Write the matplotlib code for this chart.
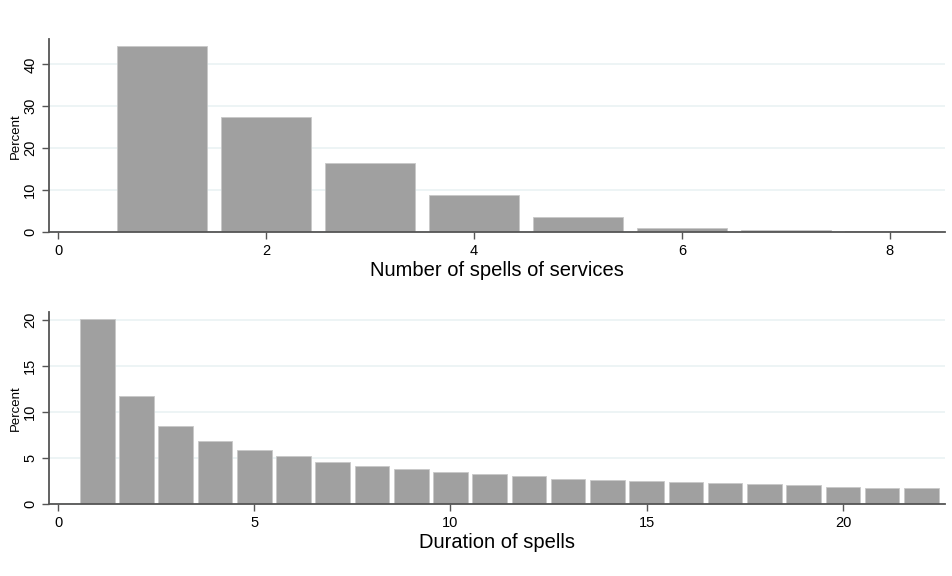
import matplotlib
matplotlib.use("Agg")
import matplotlib.pyplot as plt
import numpy as np

plt.rcParams['font.family'] = ['Liberation Sans', 'DejaVu Sans']

# spells of services (percent)
n_spells = [1, 2, 3, 4, 5, 6, 7, 8]
pct_spells = [44.3, 27.4, 16.4, 8.8, 3.7, 1.1, 0.4, 0.3]

# duration of spells (percent)
duration = list(range(1, 23))
pct_duration = [20.1, 11.7, 8.45, 6.8, 5.87, 5.2, 4.6, 4.17, 3.8, 3.48, 3.22,
                3.0, 2.75, 2.65, 2.54, 2.43, 2.32, 2.2, 2.1, 1.8, 1.7, 1.7]

bar_col = '#a0a0a0'
grid_col = '#eaf2f3'
spine_col = '#555555'

fig = plt.figure(figsize=(9.53, 5.76), dpi=100)
ax1 = fig.add_axes([0.0514, 0.597, 0.9402, 0.335])
ax2 = fig.add_axes([0.0514, 0.125, 0.9402, 0.334])


def style(ax, yticks, xticks, xlabel):
    ax.set_axisbelow(True)
    ax.set_yticks(yticks)
    ax.set_xticks(xticks)
    ax.yaxis.grid(True, color=grid_col, linewidth=1.2)
    for s in ['top', 'right']:
        ax.spines[s].set_visible(False)
    for s in ['left', 'bottom']:
        ax.spines[s].set_color(spine_col)
        ax.spines[s].set_linewidth(1.3)
    ax.tick_params(axis='both', colors=spine_col, labelcolor='black',
                   labelsize=10.5, length=5, width=1)
    for lab in ax.get_yticklabels():
        lab.set_rotation(90)
        lab.set_va('center')
    ax.set_ylabel('Percent', fontsize=9.5, labelpad=1)
    ax.set_xlabel(xlabel, fontsize=14.5, labelpad=2)


ax1.bar(n_spells, pct_spells, width=0.87, color=bar_col, edgecolor='#c8c8c8', linewidth=0.6)
ax1.set_xlim(-0.087, 8.53)
ax1.set_ylim(0, 46)
style(ax1, [0, 10, 20, 30, 40], [0, 2, 4, 6, 8], 'Number of spells of services')

ax2.bar(duration, pct_duration, width=0.88, color=bar_col, edgecolor='#c8c8c8', linewidth=0.6)
ax2.set_xlim(-0.23, 22.6)
ax2.set_ylim(0, 20.9)
style(ax2, [0, 5, 10, 15, 20], [0, 5, 10, 15, 20], 'Duration of spells')

fig.savefig('out.png', dpi=100)
